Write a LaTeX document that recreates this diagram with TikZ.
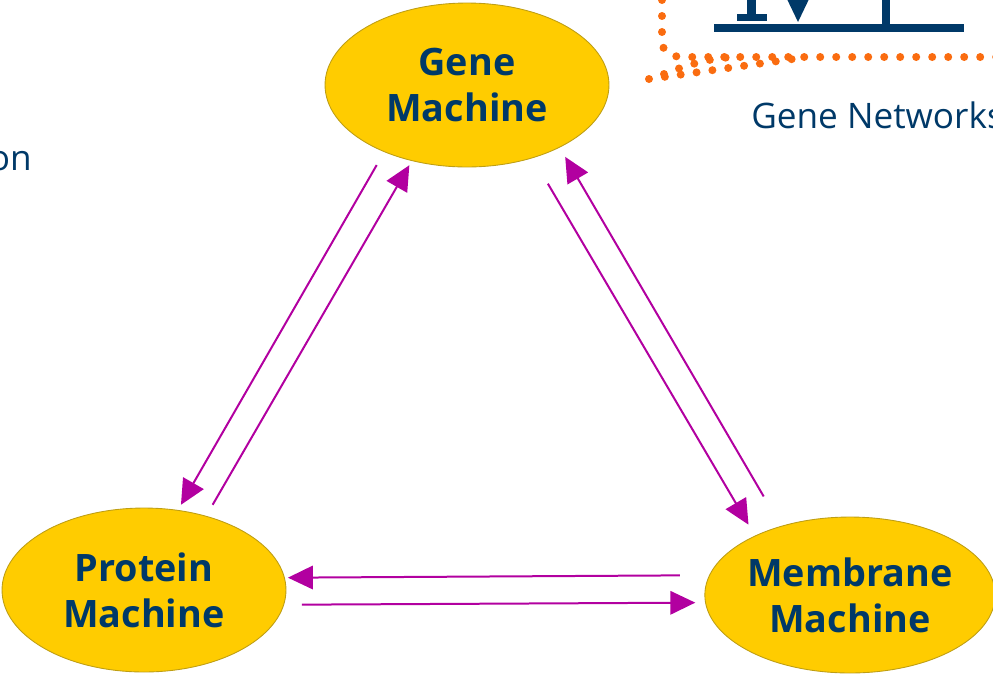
\documentclass[tikz,border=0pt]{standalone}
\usepackage{fontspec}
\setmainfont{Open Sans}
\usetikzlibrary{arrows.meta, shapes.geometric}

\definecolor{navy}{RGB}{0,57,104}
\definecolor{gold}{RGB}{255,204,0}
\definecolor{goldline}{RGB}{190,158,20}
\definecolor{plum}{RGB}{178,0,160}
\definecolor{dotorange}{RGB}{250,108,16}

\begin{document}
\begin{tikzpicture}[x=0.02cm, y=-0.02cm,
        machine/.style={ellipse, draw=goldline, line width=0.5pt, fill=gold, inner sep=0pt, minimum width=5.68cm, minimum height=3.28cm, align=center, text=navy, text depth=-0.14cm, font=\bfseries\fontsize{21.5}{26}\selectfont},
        label/.style={text=navy, inner sep=0pt, font=\fontsize{20}{24}\selectfont},
        link/.style={-{Triangle[length=0.5cm, width=0.47cm]}, line width=0.04cm, plum},
        dots/.style={dotorange, line width=0.16cm, line cap=round, dash pattern=on 0pt off 0.32cm},
        gnet/.style={navy, line width=0.16cm}
    ]
    \useasboundingbox (0,0) rectangle (993,677);
    \clip (0,0) rectangle (993,677);

    % Texte coupé à gauche
    \node[label, anchor=base east] (leftword) at (32,170) {on};

    % Cadre pointillé orange (coin)
    \draw[dots] (662,-16) -- (662,40) .. controls (662,52) and (670,57) .. (684,57) -- (1010,57);
    \draw[dots] (649,79) -- (800,58);
    \draw[dots] (664,74) .. controls (690,64) and (710,58) .. (735,57);

    % Symbole du réseau de gènes
    \draw[gnet] (714,28) -- (964,28);
    \draw[gnet] (886,-5) -- (886,28);
    \draw[gnet, line width=0.14cm] (737,17) -- (767,17);
    \draw[gnet, line width=0.18cm] (751,-5) -- (751,17);
    \fill[navy] (786,-3) -- (810,-3) -- (798,22) -- cycle;
    \node[label, anchor=base west] (netlabel) at (751,128) {Gene Networks};

    % Machines
    \node[machine] (gene) at (467,85) {Gene\\Machine};
    \node[machine] (protein) at (144,590) {Protein\\Machine};
    \node[machine, minimum width=5.72cm, minimum height=3.12cm] (membrane) at (850,595) {Membrane\\Machine};

    % Gene <-> Protein
    \draw[link, shorten <=0.3cm, shorten >=0.12cm] (gene.219) -- (protein.67.6);
    \draw[link, shorten <=0.256cm, shorten >=0.098cm] (protein.50.2) -- (gene.234.3);

    % Gene <-> Membrane
    \draw[link, shorten <=0.594cm, shorten >=0.254cm] (gene.312.9) -- (membrane.148.8);
    \draw[link, shorten <=0.684cm, shorten >=0.216cm] (membrane.135.2) -- (gene.326.7);

    % Membrane <-> Protein
    \draw[link, shorten <=0.586cm, shorten >=0.062cm] (membrane.172.2) -- (protein.5.7);
    \draw[link, shorten <=0.356cm, shorten >=0.196cm] (protein.354.7) -- (membrane.183.2);

\end{tikzpicture}
\end{document}
